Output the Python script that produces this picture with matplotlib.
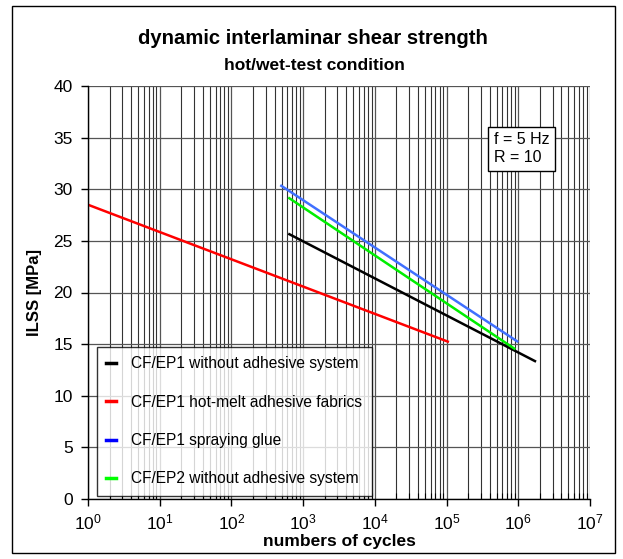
import numpy as np
import matplotlib
matplotlib.use('Agg')
import matplotlib.pyplot as plt
from matplotlib.ticker import LogLocator, NullFormatter

plt.rcParams['font.family'] = ['Liberation Sans', 'DejaVu Sans']

# series: (cycles, ILSS) end points
labels = ['CF/EP1 without adhesive system',
          'CF/EP1 hot-melt adhesive fabrics',
          'CF/EP1 spraying glue',
          'CF/EP2 without adhesive system']
colors = ['#000000', '#ff0000', '#4070ff', '#00ee00']
legend_colors = ['#000000', '#ff0000', '#0000ff', '#00ff00']
cycles = [[620, 1.77e6],
          [1, 1.08e5],
          [480, 1.0e6],
          [620, 9.1e5]]
ilss = [[25.7, 13.3],
        [28.5, 15.2],
        [30.4, 15.2],
        [29.2, 14.5]]

fig = plt.figure(figsize=(6.23, 5.59), dpi=100)
ax = fig.add_axes([88/623, 1-499/559, 502/623, 413/559])

ax.set_xscale('log')
ax.set_xlim(1, 1e7)
ax.set_ylim(0, 40)
ax.set_yticks(np.arange(0, 41, 5))
ax.xaxis.set_major_locator(LogLocator(base=10, numticks=10))
ax.xaxis.set_minor_locator(LogLocator(base=10, subs=np.arange(2, 10), numticks=100))
ax.xaxis.set_minor_formatter(NullFormatter())

ax.grid(True, which='major', axis='both', color='#555555', lw=0.9)
ax.grid(True, which='minor', axis='x', color='#333333', lw=0.8)
ax.set_axisbelow(True)

for sp in ['top', 'right']:
    ax.spines[sp].set_visible(False)
ax.spines['left'].set_linewidth(1.0)
ax.spines['bottom'].set_linewidth(1.0)
ax.tick_params(axis='both', which='major', direction='out', length=5, labelsize=12.5, width=1)
ax.tick_params(axis='x', which='minor', direction='in', length=4, width=0.8)
ax.tick_params(axis='x', pad=5)
ax.tick_params(axis='y', pad=6)

for xs, ys, c in zip(cycles, ilss, colors):
    ax.plot(xs, ys, color=c, lw=1.8, solid_capstyle='butt')

handles = [plt.Line2D([], [], color=c, lw=2.5) for c in legend_colors]
leg = ax.legend(handles, labels, loc='lower left', bbox_to_anchor=(0.018, 0.008),
                fontsize=11.2, handlelength=0.6, handletextpad=1.0, labelspacing=1.5,
                frameon=True, fancybox=False, borderpad=0.6, borderaxespad=0)
leg.get_frame().set_edgecolor('black')
leg.get_frame().set_linewidth(1.0)

ax.text(0.808, 0.888, 'f = 5 Hz\nR = 10', transform=ax.transAxes, fontsize=11.5,
        va='top', ha='left', linespacing=1.25,
        bbox=dict(boxstyle='square,pad=0.35', fc='white', ec='black', lw=1.0))

ax.set_xlabel('numbers of cycles', fontsize=12.5, fontweight='bold', labelpad=1)
ax.set_ylabel('ILSS [MPa]', fontsize=12, fontweight='bold', labelpad=8)

fig.text(313/623, 1-38/559, 'dynamic interlaminar shear strength', ha='center', va='center',
         fontsize=14.6, fontweight='bold')
fig.text(314/623, 1-65/559, 'hot/wet-test condition', ha='center', va='center',
         fontsize=12.5, fontweight='bold')

fig.patches.append(plt.Rectangle((12/623, 1-553/559), 603/623, 547/559,
                                 transform=fig.transFigure, fill=False, ec='black', lw=1.0))

fig.savefig('out.png', dpi=100)
